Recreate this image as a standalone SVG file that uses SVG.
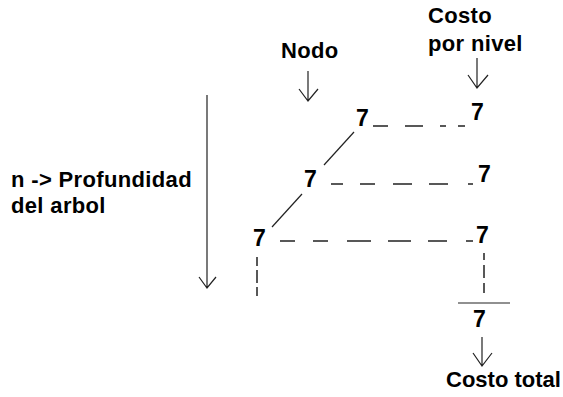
<svg xmlns="http://www.w3.org/2000/svg" width="563" height="397" viewBox="0 0 563 397">
<style>
  .lbl { font-family: "Liberation Sans", Arial, sans-serif; font-weight: bold; font-size: 22px; letter-spacing: 0.35px; fill: #000; }
  .num { font-family: "Liberation Sans", Arial, sans-serif; font-weight: bold; font-size: 23px; fill: #000; }
  .ln { stroke: #222; stroke-width: 1.2; fill: none; }
  .dash { stroke: #222; stroke-width: 1.5; fill: none; }
</style>
<rect width="563" height="397" fill="#fff"/>

<g id="connectors">
  <!-- Nodo arrow -->
  <path class="ln" d="M308 71 V101 M299 89 L308 101 L318 89"/>
  <!-- Costo por nivel arrow -->
  <path class="ln" d="M477 58 V88 M468 75 L477 88 L488 75"/>
  <!-- depth arrow -->
  <path class="ln" d="M207 95 V288 M199 277 L207 288 L216 277"/>
  <!-- diagonals -->
  <path class="ln" d="M354 132 L324 165"/>
  <path class="ln" d="M302 194 L272 227"/>
  <!-- top row dashes -->
  <path class="dash" d="M373 126 H388 M405 126 H423 M440 126 H446 M458 126 H465"/>
  <!-- middle row dashes -->
  <path class="dash" d="M331 184 H343 M360 184 H375 M393 184 H412 M429 184 H448 M468 184 H473"/>
  <!-- bottom row dashes -->
  <path class="dash" d="M280 241 H295 M313 241 H328 M347 241 H371 M388 241 H411 M428 241 H447 M466 241 H473"/>
  <!-- vertical dashes left -->
  <path class="dash" d="M257 257 V266 M257 270 V283 M257 287 V296"/>
  <!-- vertical dashes right -->
  <path class="dash" d="M484 253 V260 M484 265 V278 M484 283 V293"/>
  <!-- sum line -->
  <path class="ln" d="M458 303 H510"/>
  <!-- total arrow -->
  <path class="ln" d="M482 337 V366 M473 353 L482 366 L492 353"/>
</g>

<g id="label-nodo"><text class="lbl" x="281" y="58">Nodo</text></g>
<g id="label-costo-nivel">
  <text class="lbl" x="428" y="23">Costo</text>
  <text class="lbl" x="428" y="51">por nivel</text>
</g>
<g id="label-profundidad">
  <text class="lbl" x="11" y="187">n -&gt; Profundidad</text>
  <text class="lbl" x="11" y="213">del arbol</text>
</g>
<g id="label-costo-total"><text class="lbl" x="446" y="387" style="letter-spacing:0">Costo total</text></g>

<g id="node-1"><text class="num" x="356" y="126">7</text></g>
<g id="node-2"><text class="num" x="304" y="187">7</text></g>
<g id="node-3"><text class="num" x="253" y="246">7</text></g>
<g id="cost-1"><text class="num" x="471" y="120">7</text></g>
<g id="cost-2"><text class="num" x="478" y="182">7</text></g>
<g id="cost-3"><text class="num" x="476" y="243">7</text></g>
<g id="total"><text class="num" x="473" y="327">7</text></g>
</svg>
